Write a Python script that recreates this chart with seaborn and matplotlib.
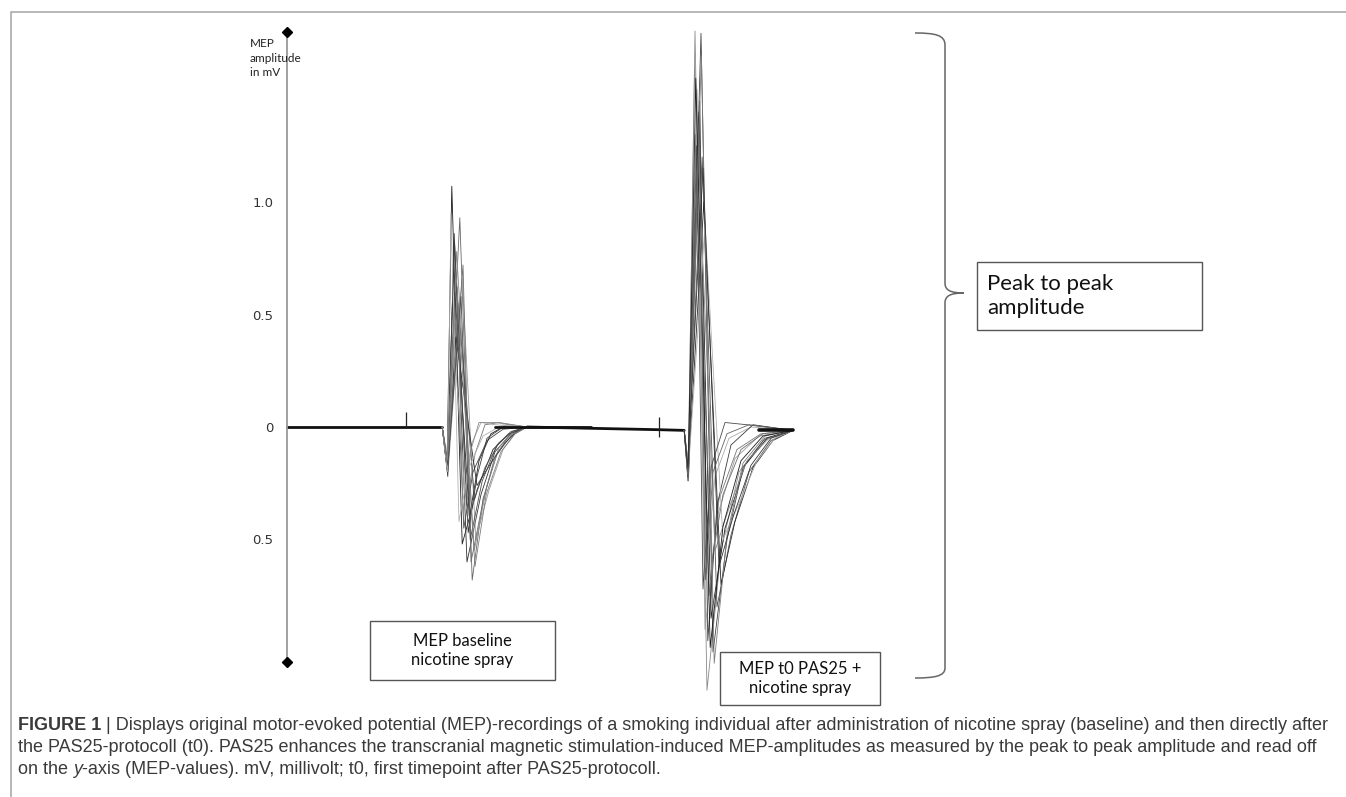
import matplotlib.pyplot as plt
from matplotlib.path import Path
from matplotlib.patches import PathPatch, Rectangle
from matplotlib.lines import Line2D
import numpy as np
import pandas as pd
import seaborn as sns

sns.set_style("white")
plt.rcParams["font.family"] = ["DejaVu Sans"]

W, H = 1346, 797

# recording timeline in ms, amplitude in mV
# baseline between the MEPs
flat_t = [0, 38.8]
flat_v = [0, 0]
flat2_t = [60.0, 93.0, 99.3]
flat2_v = [0, -0.012, -0.015]
# stimulus artefacts (time, low, high)
stim_t = [29.75, 93.0]
stim_lo = [0.0, -0.045]
stim_hi = [0.065, 0.045]

# sweep 1: MEP baseline nicotine spray (onset, dip, peak, trough, tail..., end)
base_t = [
    [38.8, 40.0, 41.2, 43.8, 47.5, 51.5, 55.5, 60.0],
    [38.8, 40.1, 43.2, 46.3, 49.0, 52.5, 56.0, 60.0],
    [38.8, 40.2, 41.8, 45.0, 48.5, 52.0, 56.0, 60.0],
    [38.8, 40.0, 42.4, 46.8, 50.0, 53.0, 56.5, 60.0],
    [38.8, 40.1, 41.6, 44.2, 46.5, 50.0, 54.0, 60.0],
    [38.8, 40.3, 43.8, 47.2, 50.5, 54.0, 57.0, 60.0],
    [38.8, 40.0, 42.0, 45.6, 48.0, 51.0, 55.0, 60.0],
    [38.8, 40.2, 42.8, 44.8, 47.0, 49.5, 53.0, 60.0],
    [38.8, 40.1, 43.0, 46.9, 49.5, 53.0, 56.5, 60.0],
    [38.8, 40.0, 41.4, 44.4, 46.0, 48.5, 52.0, 60.0],
    [38.8, 40.2, 42.2, 47.5, 51.0, 54.5, 57.5, 60.0],
    [38.8, 40.1, 44.0, 46.0, 49.0, 52.0, 55.5, 60.0],
    [38.8, 40.0, 41.9, 45.3, 47.5, 50.0, 54.0, 60.0],
    [38.8, 40.2, 42.6, 44.0, 46.0, 48.0, 52.0, 60.0],
    [38.8, 40.1, 41.0, 43.0, 45.5, 49.0, 54.0, 60.0],
    [38.8, 40.2, 43.5, 45.8, 48.8, 52.5, 56.0, 60.0],
    [38.8, 40.0, 42.3, 47.0, 49.8, 53.5, 57.0, 60.0],
]
base_v = [
    [0, -0.18, 1.07, -0.52, -0.28, -0.10, -0.03, 0],
    [0, -0.20, 0.93, -0.68, -0.32, -0.12, -0.04, 0],
    [0, -0.22, 0.86, -0.60, -0.30, -0.11, -0.03, 0],
    [0, -0.15, 0.78, -0.55, -0.26, -0.09, -0.02, 0],
    [0, -0.17, 0.70, -0.45, -0.20, -0.06, -0.01, 0],
    [0, -0.19, 0.66, -0.50, -0.28, -0.10, -0.03, 0],
    [0, -0.14, 0.60, -0.40, -0.15, -0.03, 0.01, 0],
    [0, -0.16, 0.55, -0.35, -0.12, 0.01, 0.02, 0],
    [0, -0.18, 0.50, -0.32, -0.18, -0.07, -0.02, 0],
    [0, -0.12, 0.46, -0.28, -0.08, 0.02, 0.01, 0],
    [0, -0.20, 0.40, -0.26, -0.16, -0.07, -0.02, 0],
    [0, -0.17, 0.72, -0.60, -0.33, -0.13, -0.04, 0],
    [0, -0.16, 0.82, -0.47, -0.22, -0.05, 0.00, 0],
    [0, -0.18, 0.62, -0.38, -0.10, 0.02, 0.02, 0],
    [0, -0.20, 0.95, -0.42, -0.18, -0.04, 0.01, 0],
    [0, -0.17, 0.58, -0.50, -0.24, -0.08, -0.02, 0],
    [0, -0.15, 0.68, -0.62, -0.30, -0.11, -0.03, 0],
]

# sweep 2: MEP t0 after PAS25 + nicotine spray
pas_t = [
    [99.3, 100.3, 102.0, 105.0, 108.5, 113.0, 119.0, 126.5],
    [99.3, 100.4, 103.5, 106.5, 110.0, 114.0, 119.5, 126.5],
    [99.3, 100.2, 102.5, 104.5, 107.5, 112.0, 118.0, 126.5],
    [99.3, 100.3, 103.0, 106.0, 109.5, 114.5, 120.0, 126.5],
    [99.3, 100.4, 102.2, 105.5, 108.0, 112.5, 118.5, 126.5],
    [99.3, 100.2, 103.8, 107.5, 111.0, 115.5, 121.0, 126.5],
    [99.3, 100.3, 102.8, 104.8, 107.0, 110.5, 116.0, 126.5],
    [99.3, 100.4, 104.2, 108.5, 112.0, 116.5, 121.5, 126.5],
    [99.3, 100.3, 102.6, 106.2, 109.0, 113.5, 119.0, 126.5],
    [99.3, 100.2, 103.2, 105.2, 107.5, 111.0, 116.5, 126.5],
    [99.3, 100.3, 101.9, 107.0, 110.5, 115.0, 120.5, 126.5],
    [99.3, 100.4, 104.5, 109.0, 113.0, 117.5, 122.0, 126.5],
    [99.3, 100.3, 102.4, 104.0, 106.0, 109.5, 115.0, 126.5],
    [99.3, 100.2, 103.6, 106.8, 110.0, 114.0, 119.5, 126.5],
    [99.3, 100.3, 102.2, 105.8, 109.0, 113.5, 119.0, 126.5],
    [99.3, 100.4, 103.0, 104.6, 106.5, 110.0, 115.5, 126.5],
    [99.3, 100.2, 104.0, 108.0, 111.5, 116.0, 121.0, 126.5],
]
pas_v = [
    [-0.015, -0.22, 1.76, -1.17, -0.55, -0.20, -0.06, -0.015],
    [-0.015, -0.20, 1.75, -1.00, -0.50, -0.18, -0.05, -0.015],
    [-0.015, -0.24, 1.50, -0.90, -0.40, -0.14, -0.04, -0.015],
    [-0.015, -0.18, 1.40, -0.85, -0.45, -0.17, -0.05, -0.015],
    [-0.015, -0.21, 1.30, -0.75, -0.32, -0.10, -0.03, -0.015],
    [-0.015, -0.19, 1.20, -0.80, -0.48, -0.20, -0.06, -0.015],
    [-0.015, -0.23, 1.10, -0.65, -0.22, -0.05, 0.00, -0.015],
    [-0.015, -0.17, 1.00, -0.70, -0.42, -0.18, -0.06, -0.015],
    [-0.015, -0.20, 0.95, -0.60, -0.30, -0.10, -0.03, -0.015],
    [-0.015, -0.22, 1.45, -0.95, -0.35, -0.08, 0.01, -0.015],
    [-0.015, -0.19, 1.60, -0.55, -0.36, -0.15, -0.05, -0.015],
    [-0.015, -0.18, 0.90, -0.50, -0.34, -0.15, -0.05, -0.015],
    [-0.015, -0.24, 1.25, -0.72, -0.18, 0.02, 0.01, -0.015],
    [-0.015, -0.21, 1.65, -1.05, -0.48, -0.16, -0.04, -0.015],
    [-0.015, -0.20, 1.55, -0.98, -0.44, -0.15, -0.04, -0.015],
    [-0.015, -0.22, 1.35, -0.68, -0.20, -0.03, 0.01, -0.015],
    [-0.015, -0.18, 1.15, -0.62, -0.40, -0.17, -0.05, -0.015],
]

ytick_vals = [1.0, 0.5, 0, -0.5]
ytick_labels = ["1.0", "0.5", "0", "0.5"]

# long table for seaborn
rows = []
for name, T, V in [("b", base_t, base_v), ("p", pas_t, pas_v)]:
    for i, (tt, vv) in enumerate(zip(T, V)):
        for a, b in zip(tt, vv):
            rows.append((f"{name}{i}", a, b))
df = pd.DataFrame(rows, columns=["trial", "t", "mV"])
flat = pd.DataFrame({"seg": ["a"] * len(flat_t) + ["b"] * len(flat2_t),
                     "t": flat_t + flat2_t, "mV": flat_v + flat2_v})

grays = ["#1a1a1a", "#666666", "#333333", "#8a8a8a", "#444444", "#999999", "#222222",
         "#777777", "#555555", "#aaaaaa", "#2b2b2b", "#6e6e6e", "#3c3c3c", "#888888",
         "#b0b0b0", "#4a4a4a", "#7d7d7d"]
pal = {}
for i in range(len(base_t)):
    pal[f"b{i}"] = grays[i % len(grays)]
for i in range(len(pas_t)):
    pal[f"p{i}"] = grays[(i + 3) % len(grays)]

fig = plt.figure(figsize=(W / 100, H / 100), dpi=100)

def fx(x):
    return x / W

def fy(y):
    return 1 - y / H

ax = fig.add_axes([fx(287), fy(662), (900 - 287) / W, (662 - 32) / H])
ax.set_xlim(0, (900 - 287) / 4)
ax.set_ylim(-(662 - 427) / 225, (427 - 32) / 225)

sns.lineplot(data=flat, x="t", y="mV", units="seg", estimator=None, sort=False,
             color="#111111", lw=2.0, legend=False, ax=ax)
sns.lineplot(data=df, x="t", y="mV", hue="trial", units="trial", estimator=None,
             sort=False, palette=pal, lw=0.6, legend=False, ax=ax)
# tail ends where all traces converge
ax.plot([52, 60, 76], [0, 0, 0], color="#111111", lw=2.0)
ax.plot([118, 126.5], [-0.015, -0.015], color="#111111", lw=2.6)
ax.vlines(stim_t, stim_lo, stim_hi, color="#222222", lw=0.9)
for ln in ax.lines:
    ln.set_clip_on(False)

for s in ["top", "right", "bottom"]:
    ax.spines[s].set_visible(False)
ax.spines["left"].set_color("#9a9a9a")
ax.spines["left"].set_linewidth(1.3)
ax.set_xticks([])
ax.set_yticks(ytick_vals)
ax.set_yticklabels(ytick_labels)
ax.tick_params(axis="y", length=0, pad=10, labelsize=9.5, labelcolor="#333333")
ax.set_xlabel("")
ax.set_ylabel("")
ax.plot([0, 0], list(ax.get_ylim()), "D", color="black", ms=5, clip_on=False, zorder=5)

fig.text(fx(250), fy(38), "MEP\namplitude\nin mV", family="Lato", fontsize=8.5,
         color="#222222", va="top", ha="left", linespacing=1.4)

# annotation boxes
def box(x0, y0, x1, y1, label, size, left=None):
    fig.patches.append(Rectangle((fx(x0), fy(y1)), (x1 - x0) / W, (y1 - y0) / H,
                                 transform=fig.transFigure, fill=False,
                                 edgecolor="#555555", lw=1.0))
    if left is None:
        fig.text(fx((x0 + x1) / 2), fy((y0 + y1) / 2), label, family="Lato",
                 fontsize=size, ha="center", va="center", color="#111111",
                 linespacing=1.2)
    else:
        fig.text(fx(left), fy((y0 + y1) / 2), label, family="Lato",
                 fontsize=size, ha="left", va="center", color="#111111",
                 linespacing=1.2)

box(370, 621, 555, 680, "MEP baseline\nnicotine spray", 12)
box(720, 652, 880, 705, "MEP t0 PAS25 +\nnicotine spray", 12)
box(977, 262, 1202, 330, "Peak to peak\namplitude", 16, left=987)

# curly brace
pts = [(915, 33), (935, 33), (945, 35), (945, 45), (945, 283),
       (945, 290), (950, 293), (964, 293), (950, 293), (945, 296), (945, 303),
       (945, 668), (945, 676), (935, 678), (915, 678)]
codes = [Path.MOVETO, Path.CURVE4, Path.CURVE4, Path.CURVE4, Path.LINETO,
         Path.CURVE4, Path.CURVE4, Path.CURVE4, Path.CURVE4, Path.CURVE4, Path.CURVE4,
         Path.LINETO, Path.CURVE4, Path.CURVE4, Path.CURVE4]
brace = Path([(fx(a), fy(b)) for a, b in pts], codes)
fig.patches.append(PathPatch(brace, transform=fig.transFigure, fill=False,
                             edgecolor="#666666", lw=1.1))

# outer frame
fig.lines.append(Line2D([fx(11), fx(11), 1], [0, fy(12), fy(12)],
                        transform=fig.transFigure, color="#aaaaaa", lw=1.2))

# caption
cap_col = "#3a3a3a"
cap_font = "Liberation Sans"
r = fig.canvas.get_renderer()

line1 = ("FIGURE 1", " | Displays original motor-evoked potential (MEP)-recordings of a smoking "
         "individual after administration of nicotine spray (baseline) and then directly after")
line2 = ("the PAS25-protocoll (t0). PAS25 enhances the transcranial magnetic stimulation-induced "
         "MEP-amplitudes as measured by the peak to peak amplitude and read off")
line3 = ("on the ", "y", "-axis (MEP-values). mV, millivolt; t0, first timepoint after PAS25-protocoll.")

probe = fig.text(0, 0, line1[0] + line1[1], family=cap_font, fontsize=10)
wprobe = probe.get_window_extent(renderer=r).width
probe.remove()
csize = 10 * (1330 - 18) / wprobe


def runs(x, y, parts):
    for s, kw in parts:
        t = fig.text(fx(x), fy(y), s, family=cap_font, fontsize=csize, color=cap_col,
                     ha="left", va="center", **kw)
        x += t.get_window_extent(renderer=r).width * W / fig.bbox.width


runs(18, 726, [(line1[0], {"weight": "bold"}), (line1[1], {})])
runs(18, 748, [(line2, {})])
runs(18, 770, [(line3[0], {}), (line3[1], {"style": "italic"}), (line3[2], {})])

fig.savefig("out.png", dpi=100, facecolor="white")
